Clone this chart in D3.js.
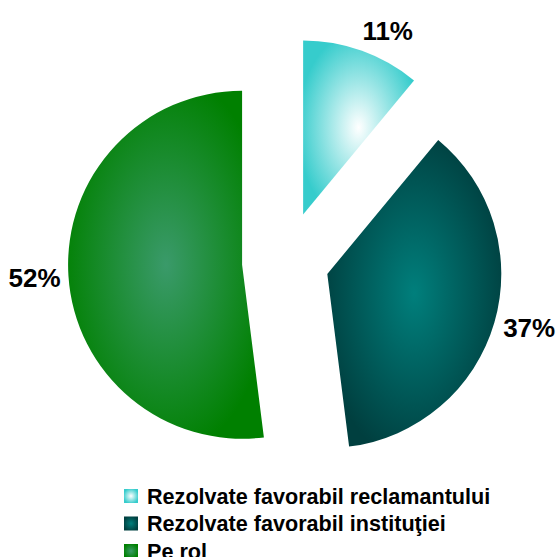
<!DOCTYPE html>
<html>
<head>
<meta charset="utf-8">
<script src="https://cdn.jsdelivr.net/npm/d3@7"></script>
<style>
  html, body { margin: 0; padding: 0; background: #ffffff; }
  svg { display: block; }
  text { font-family: "Liberation Sans", Arial, sans-serif; font-weight: bold; fill: #000; }
</style>
</head>
<body>
<script>
// ---- data ----
const categories = ["Rezolvate favorabil reclamantului", "Rezolvate favorabil instituţiei", "Pe rol"];
const values = [11, 37, 52];
const valueLabels = ["11%", "37%", "52%"];
const centerColors = ["#ffffff", "#007f7c", "#3a9a6a"];
const edgeColors = ["#36cccc", "#003f3f", "#008000"];

// ---- layout ----
const W = 559, H = 557;
const cx = 286, cy = 262, R = 174;
const explode = [50.5, 43, 44];
const labelR = 252;
const labelShift = [4, -1, 0]; // degrees

const svg = d3.select("body").append("svg").attr("width", W).attr("height", H);
const defs = svg.append("defs");
categories.forEach((c, i) => {
  const g = defs.append("radialGradient").attr("id", "grad" + i)
    .attr("cx", "50%").attr("cy", "50%").attr("r", "55%");
  g.append("stop").attr("offset", "0%").attr("stop-color", centerColors[i]);
  g.append("stop").attr("offset", "100%").attr("stop-color", edgeColors[i]);
});

const pie = d3.pie().sort(null).value(d => d).startAngle(0).endAngle(2 * Math.PI);
const arcs = pie(values);
const arc = d3.arc().innerRadius(0).outerRadius(R);

arcs.forEach((a, i) => {
  const mid = (a.startAngle + a.endAngle) / 2;
  const ox = cx + explode[i] * Math.sin(mid);
  const oy = cy - explode[i] * Math.cos(mid);
  svg.append("path")
    .attr("transform", `translate(${ox},${oy})`)
    .attr("d", arc(a))
    .attr("fill", `url(#grad${i})`);
  const la = mid + labelShift[i] * Math.PI / 180;
  svg.append("text")
    .attr("x", cx + labelR * Math.sin(la))
    .attr("y", cy - labelR * Math.cos(la))
    .attr("text-anchor", "middle")
    .attr("dominant-baseline", "central")
    .style("font-size", "26px")
    .text(valueLabels[i]);
});

// ---- legend ----
const legend = svg.append("g").attr("transform", "translate(124,489)");
categories.forEach((c, i) => {
  const row = legend.append("g").attr("transform", `translate(0,${i * 27.5})`);
  row.append("rect").attr("width", 14).attr("height", 14).attr("fill", `url(#grad${i})`);
  row.append("text").attr("x", 23).attr("y", 14.5)
    .style("font-size", "21.6px").text(c);
});
</script>
</body>
</html>
